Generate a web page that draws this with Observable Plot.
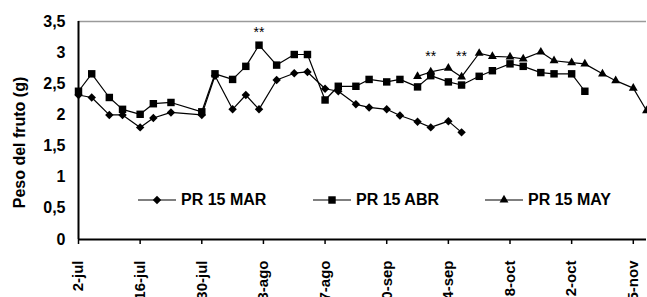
<!DOCTYPE html>
<html><head><meta charset="utf-8">
<script src="https://cdn.jsdelivr.net/npm/d3@7"></script>
<script src="https://cdn.jsdelivr.net/npm/@observablehq/plot@0.6"></script>
<style>
html,body{margin:0;padding:0;overflow:hidden;background:#fff;}
#wrap{position:relative;width:647px;height:297px;overflow:hidden;font-family:"Liberation Sans",Arial,sans-serif;}
.item{position:absolute;display:flex;align-items:center;font-weight:bold;font-size:16px;color:#000;white-space:nowrap;}
.item svg{display:block;margin-right:5px;}
g[aria-label="stars"] text{letter-spacing:2px;}
</style></head><body><div id="wrap"></div>
<script>
const year = "2009";
const seriesNames = ["PR 15 MAR", "PR 15 ABR", "PR 15 MAY"];

const marDates = ["07-02","07-05","07-09","07-12","07-16","07-19","07-23","07-30","08-02","08-06","08-09","08-12","08-16","08-20","08-23","08-27","08-30","09-03","09-06","09-10","09-13","09-17","09-20","09-24","09-27"];
const marValues = [2.32,2.28,2.00,2.00,1.80,1.95,2.04,2.00,2.63,2.09,2.32,2.09,2.56,2.67,2.69,2.42,2.38,2.17,2.12,2.09,1.99,1.89,1.80,1.90,1.72];

const abrDates = ["07-02","07-05","07-09","07-12","07-16","07-19","07-23","07-30","08-02","08-06","08-09","08-12","08-16","08-20","08-23","08-27","08-30","09-03","09-06","09-10","09-13","09-17","09-20","09-24","09-27","10-01","10-04","10-08","10-11","10-15","10-18","10-22","10-25"];
const abrValues = [2.38,2.66,2.28,2.09,2.01,2.18,2.20,2.05,2.66,2.57,2.78,3.12,2.80,2.97,2.97,2.24,2.46,2.46,2.57,2.53,2.57,2.45,2.63,2.53,2.48,2.62,2.71,2.82,2.78,2.68,2.66,2.66,2.38];

const mayDates = ["09-17","09-20","09-24","09-27","10-01","10-04","10-08","10-11","10-15","10-18","10-22","10-25","10-29","11-01","11-05","11-08"];
const mayValues = [2.62,2.69,2.75,2.61,2.99,2.94,2.93,2.90,3.01,2.87,2.84,2.82,2.66,2.55,2.43,2.07];

const starDates = ["08-12","09-20","09-27"];
const starValues = [3.32,2.93,2.93];

const xTickDates = ["07-02","07-16","07-30","08-13","08-27","09-10","09-24","10-08","10-22","11-05"];
const xTickLabels = ["2-jul","16-jul","30-jul","13-ago","27-ago","10-sep","24-sep","8-oct","22-oct","5-nov"];
const yTicks = [0,0.5,1,1.5,2,2.5,3,3.5];
const yTickLabels = ["0","0,5","1","1,5","2","2,5","3","3,5"];
const yLabel = "Peso del fruto (g)";

const parse = d => new Date(`${year}-${d}T00:00:00Z`);
const allDates = [marDates, abrDates, mayDates];
const allValues = [marValues, abrValues, mayValues];
const rows = [];
seriesNames.forEach((s, i) => allDates[i].forEach((d, j) => rows.push({series: s, date: parse(d), value: allValues[i][j]})));
const stars = starDates.map((d, i) => ({date: parse(d), value: starValues[i]}));

const symbols = ["diamond2", "square", "triangle"];
const radii = [3.8, 4.2, 3.3];
const xLabelMap = new Map(xTickDates.map((d, i) => [+parse(d), xTickLabels[i]]));

const chart = Plot.plot({
  width: 647, height: 297,
  marginLeft: 78, marginRight: 1, marginTop: 21, marginBottom: 58,
  style: {fontFamily: "Liberation Sans, Arial, sans-serif", fontWeight: "bold", fontSize: "15px", color: "black", background: "white", overflow: "visible"},
  x: {type: "utc", domain: [parse("07-02"), parse("11-08")]},
  y: {domain: [0, 3.5]},
  marks: [
    Plot.ruleY([3.5], {stroke: "#9a9a9a", strokeWidth: 1.5}),
    Plot.line(rows, {x: "date", y: "value", z: "series", stroke: "black", strokeWidth: 1.2}),
    ...seriesNames.map((s, i) => Plot.dot(rows.filter(r => r.series === s), {x: "date", y: "value", symbol: symbols[i], r: radii[i], fill: "black", stroke: "none"})),
    Plot.text(stars, {x: "date", y: "value", text: () => "**", fontSize: 14, fontWeight: "normal", ariaLabel: "stars"}),
    Plot.axisY({ticks: yTicks, tickFormat: d => yTickLabels[yTicks.indexOf(d)], tickSize: 0, tickPadding: 13, label: null, fontSize: 16}),
    Plot.axisX({ticks: xTickDates.map(parse), tickFormat: d => xLabelMap.get(+d), tickRotate: -90, tickSize: 5, tickPadding: 16, label: null, strokeWidth: 1.5, fontSize: 15}),
    Plot.ruleX([parse("07-02")], {stroke: "black", strokeWidth: 2}),
    Plot.ruleY([0], {stroke: "black", strokeWidth: 2}),
    Plot.text([yLabel], {text: d => d, frameAnchor: "left", textAnchor: "middle", rotate: -90, dx: -59, dy: 12, fontSize: 16, fontWeight: "bold"})
  ]
});
const wrap = document.getElementById("wrap");
wrap.appendChild(chart);

// legend overlay
const legendLeft = [138, 313, 485];
const legendTop = 191;
const d3Sym = {diamond2: d3.symbolDiamond2, square: d3.symbolSquare, triangle: d3.symbolTriangle};
seriesNames.forEach((s, i) => {
  const item = document.createElement("div");
  item.className = "item";
  item.style.left = legendLeft[i] + "px";
  item.style.top = legendTop + "px";
  const svg = d3.create("svg").attr("width", 38).attr("height", 18);
  svg.append("line").attr("x1", 0).attr("x2", 38).attr("y1", 9).attr("y2", 9).attr("stroke", "black").attr("stroke-width", 1.2);
  svg.append("path").attr("transform", "translate(19,9)").attr("d", d3.symbol(d3Sym[symbols[i]], Math.PI * radii[i] * radii[i])()).attr("fill", "black");
  item.appendChild(svg.node());
  const span = document.createElement("span");
  span.textContent = s;
  item.appendChild(span);
  wrap.appendChild(item);
});
</script></body></html>
